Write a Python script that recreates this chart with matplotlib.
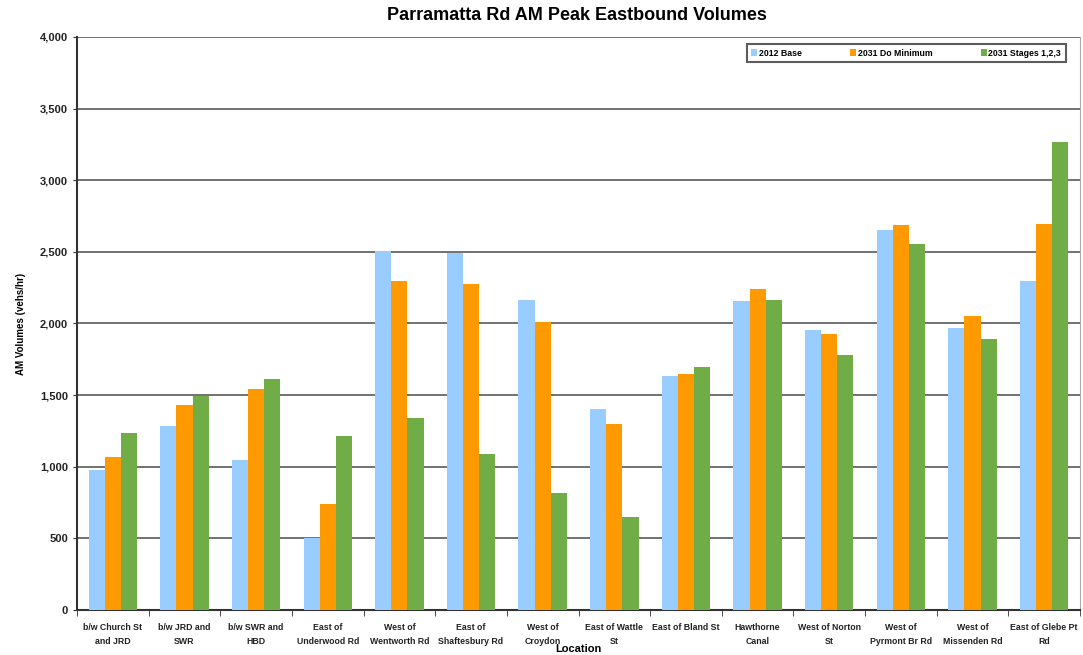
import matplotlib
matplotlib.use("Agg")
import matplotlib.pyplot as plt
import numpy as np

plt.rcParams["font.family"] = ["Liberation Sans", "DejaVu Sans"]

# data
locations = [
    "b/w Church St\nand JRD", "b/w JRD and\nSWR", "b/w SWR and\nHBD",
    "East of\nUnderwood Rd", "West of\nWentworth Rd", "East of\nShaftesbury Rd",
    "West of\nCroydon", "East of Wattle\nSt", "East of Bland St",
    "Hawthorne\nCanal", "West of Norton\nSt", "West of\nPyrmont Br Rd",
    "West of\nMissenden Rd", "East of Glebe Pt\nRd",
]
base_2012 = [978, 1285, 1047, 500, 2508, 2493, 2163, 1405, 1635, 2157, 1955, 2653, 1968, 2297]
do_min_2031 = [1068, 1431, 1543, 740, 2296, 2276, 2010, 1298, 1647, 2241, 1927, 2687, 2052, 2694]
stages_2031 = [1235, 1494, 1612, 1215, 1340, 1089, 817, 649, 1696, 2164, 1780, 2555, 1892, 3266]

series_names = ["2012 Base", "2031 Do Minimum", "2031 Stages 1,2,3"]
colors = ["#99CCFF", "#FF9900", "#70AD47"]

fig = plt.figure(figsize=(10.83, 6.55), dpi=100)
ax = fig.add_axes([77 / 1083, 1 - 610 / 655, (1080 - 77) / 1083, (610 - 37) / 655])

x = np.arange(len(locations))
width = 0.225
for i, (vals, name, col) in enumerate(zip([base_2012, do_min_2031, stages_2031], series_names, colors)):
    ax.bar(x + (i - 1) * width, vals, width, color=col, label=name, zorder=3)

ax.set_xlim(-0.5, len(locations) - 0.5)
ax.set_ylim(0, 4000)
ax.set_yticks(np.arange(0, 4001, 500))
ax.set_yticklabels([f"{v:,}" for v in range(0, 4001, 500)], fontsize=8, fontweight="bold", color="#222222")
ax.yaxis.grid(True, color="#666666", linewidth=1.3, zorder=0)
ax.set_axisbelow(True)

ax.set_xticks(x)
ax.set_xticklabels(locations, fontsize=6.3, fontweight="bold", linespacing=1.75, color="#222222")
ax.set_xticks(np.arange(-0.5, len(locations), 1), minor=True)
ax.tick_params(axis="x", which="major", length=0, pad=9)
ax.tick_params(axis="x", which="minor", length=4, color="#333333")
ax.tick_params(axis="y", length=3, color="#333333")

ax.spines["top"].set_visible(False)
ax.spines["right"].set_color("#aaaaaa")
ax.spines["left"].set_color("#333333")
ax.spines["left"].set_linewidth(1.5)
ax.spines["bottom"].set_color("#333333")
ax.spines["bottom"].set_linewidth(1.5)

ax.set_ylabel("AM Volumes (vehs/hr)", fontsize=7, fontweight="bold", labelpad=10)
ax.set_xlabel("Location", fontsize=8, fontweight="bold", labelpad=-1)
fig.suptitle("Parramatta Rd AM Peak Eastbound Volumes", x=577 / 1083, y=1 - 16 / 655,
             fontsize=13, fontweight="bold", va="center")

leg = ax.legend(loc="upper right", bbox_to_anchor=(0.99, 0.995), ncol=3, fontsize=6.3,
                frameon=True, fancybox=False, edgecolor="#333333", handlelength=0.7,
                handleheight=0.7, handletextpad=0.2, columnspacing=5.5, borderpad=0.5)
leg.get_frame().set_linewidth(1.5)
for t in leg.get_texts():
    t.set_fontweight("bold")

fig.savefig("out.png", dpi=100)
